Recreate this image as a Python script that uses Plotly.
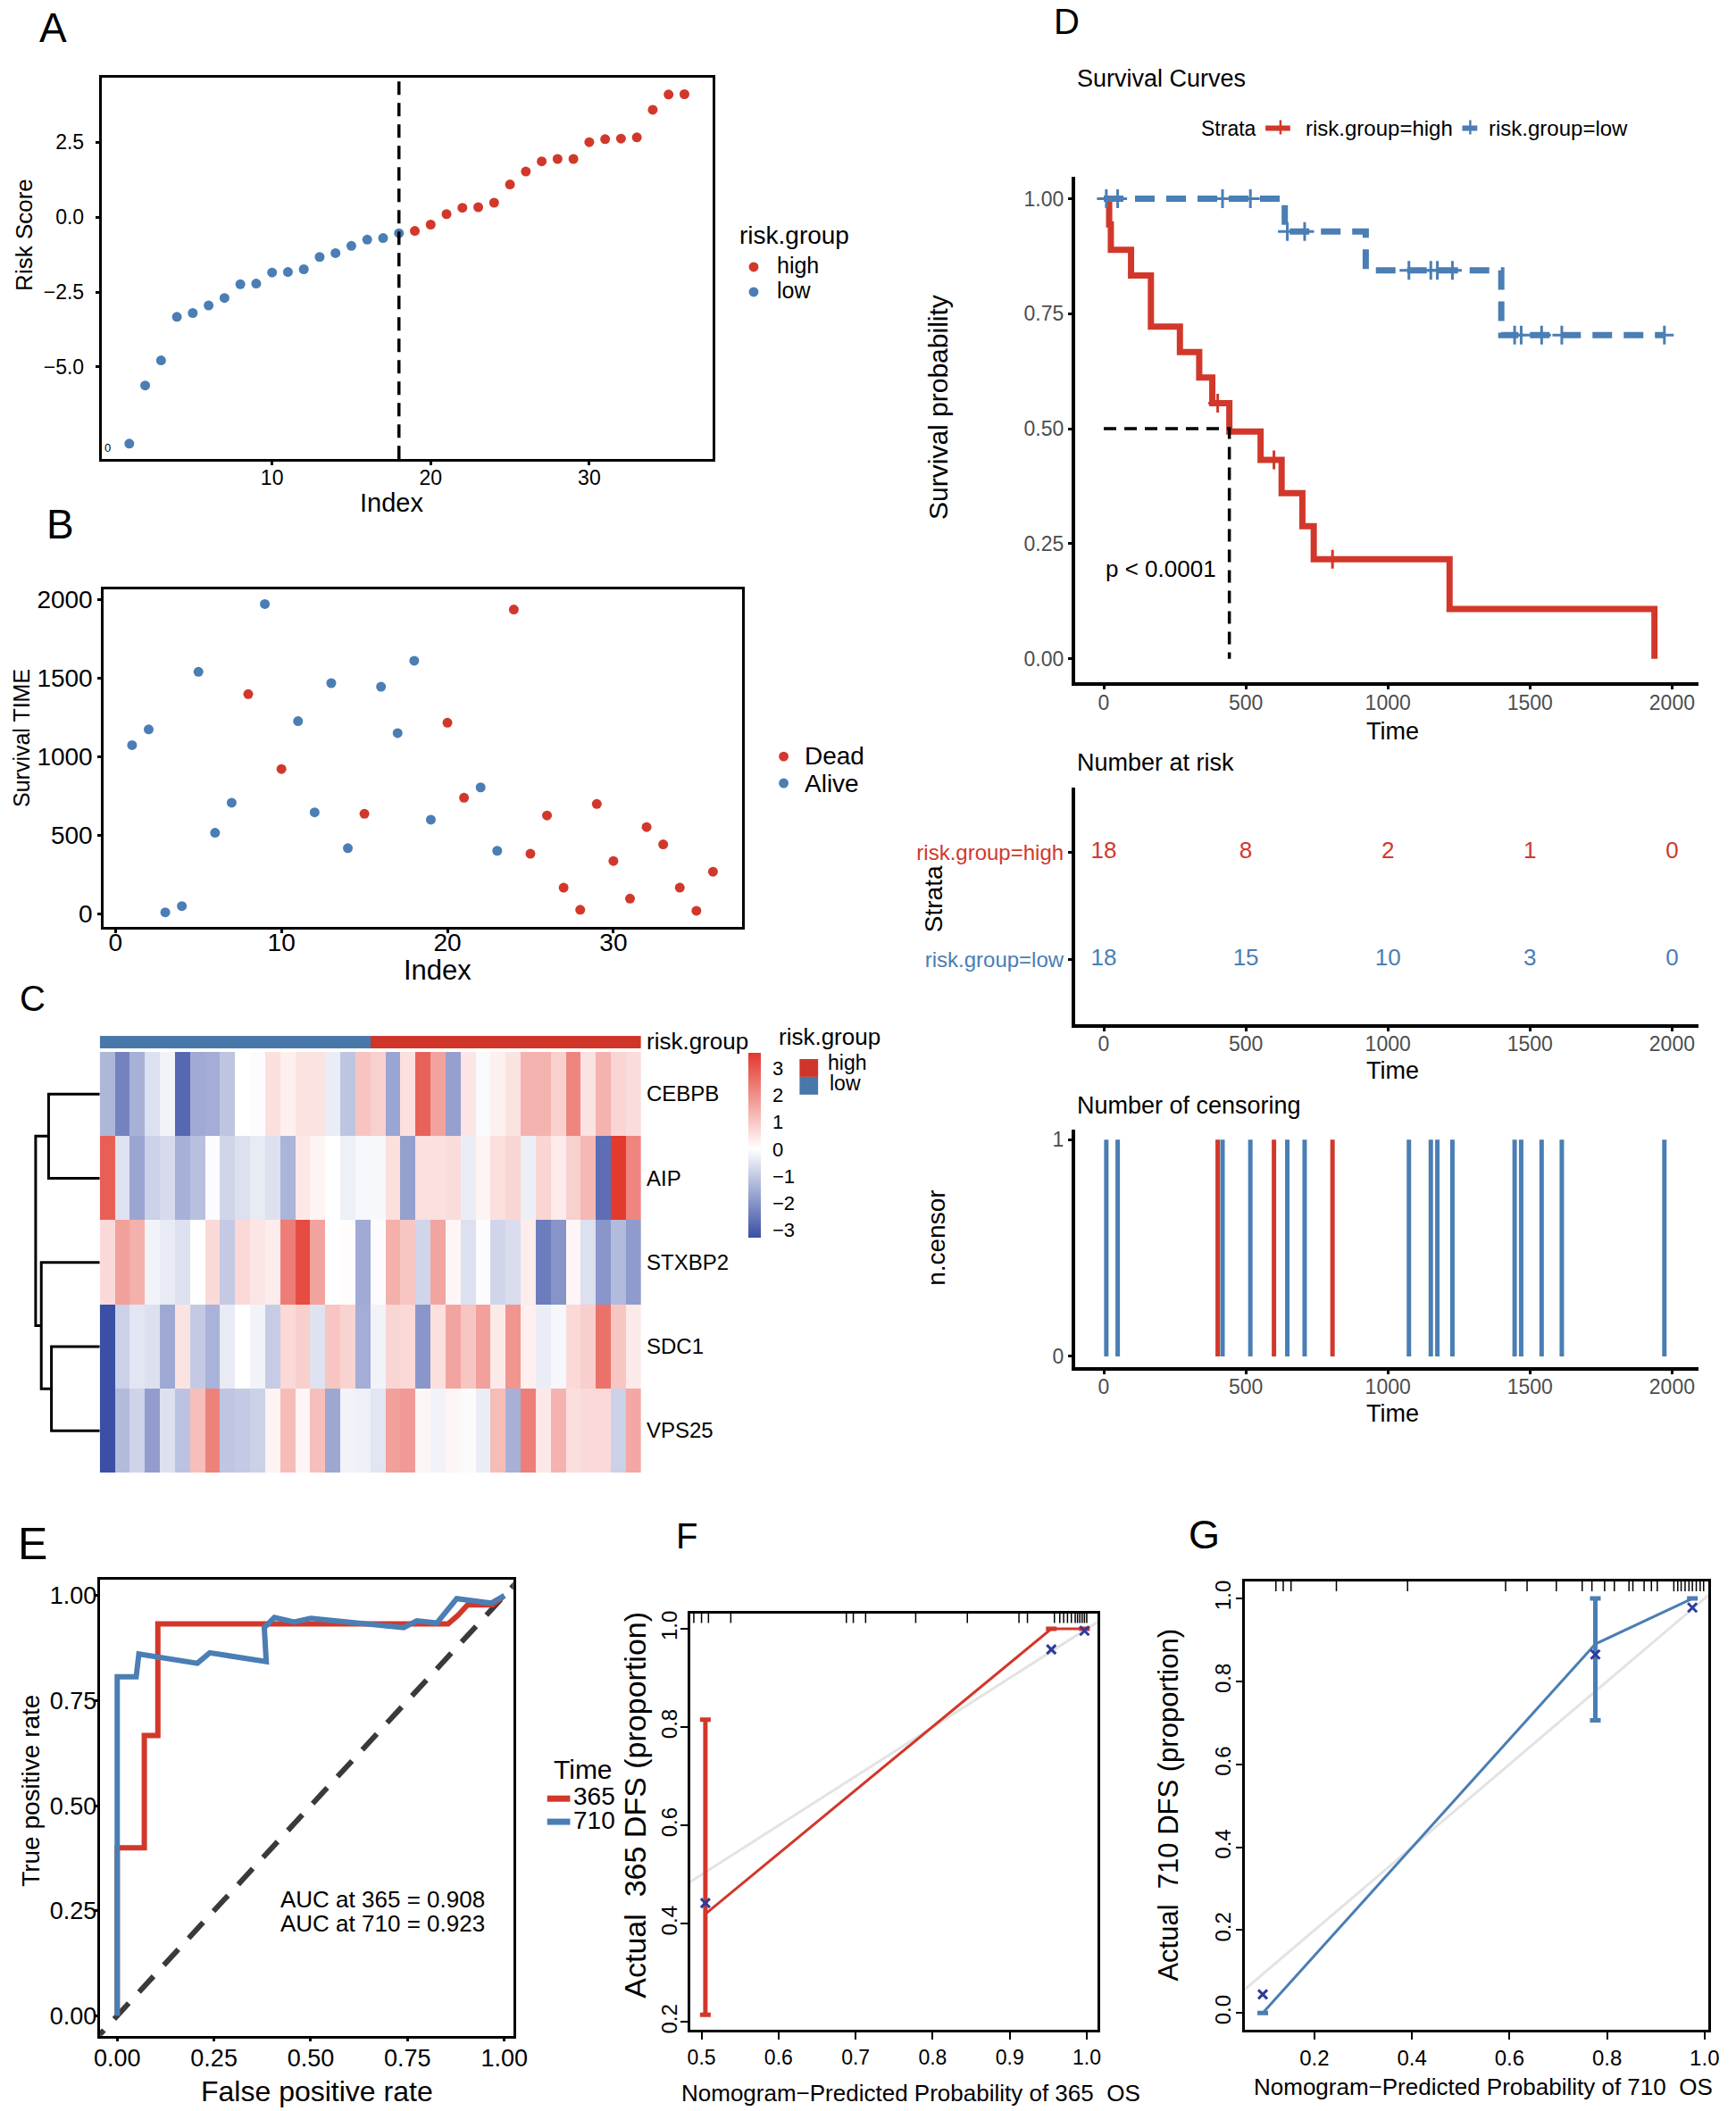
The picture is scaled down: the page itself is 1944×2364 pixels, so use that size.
import plotly.graph_objects as go

W, H = 1944, 2364
FONT = "Liberation Sans, Arial, Helvetica, sans-serif"
RED = "#D1382B"
BLUE = "#4A7EB4"
BAR_BLUE = "#4878A9"
BAR_RED = "#CF3528"
XMARK = "#2E3B9C"
GREY_TXT = "#4D4D4D"

# ---------------- Panel A / B data (patients ordered by risk score) ----------------
patient_index = [1, 2, 3, 4, 5, 6, 7, 8, 9, 10, 11, 12, 13, 14, 15, 16, 17, 18,
                 19, 20, 21, 22, 23, 24, 25, 26, 27, 28, 29, 30, 31, 32, 33, 34, 35, 36]
risk_score = [-7.56, -5.62, -4.78, -3.33, -3.20, -2.95, -2.70, -2.24, -2.22,
              -1.85, -1.83, -1.74, -1.33, -1.20, -0.96, -0.75, -0.70, -0.54,
              -0.46, -0.25, 0.10, 0.31, 0.33, 0.48, 1.09, 1.52, 1.86,
              1.94, 1.94, 2.50, 2.60, 2.62, 2.66, 3.58, 4.09, 4.10]
risk_group = ["low", "low", "low", "low", "low", "low", "low", "low", "low",
              "low", "low", "low", "low", "low", "low", "low", "low", "low",
              "high", "high", "high", "high", "high", "high", "high", "high", "high",
              "high", "high", "high", "high", "high", "high", "high", "high", "high"]
risk_cutoff = 18
survival_time = [1074, 1174, 9, 49, 1541, 516, 707, 1399, 1973, 922, 1227, 646,
                 1469, 418, 637, 1446, 1151, 1612, 599, 1217, 739, 805, 401, 1938,
                 382, 626, 166, 25, 699, 336, 96, 552, 442, 166, 19, 268]
vital_status = ["Alive", "Alive", "Alive", "Alive", "Alive", "Alive", "Alive", "Dead",
                "Alive", "Dead", "Alive", "Alive", "Alive", "Alive", "Dead", "Alive",
                "Alive", "Alive", "Alive", "Dead", "Dead", "Alive", "Alive", "Dead",
                "Dead", "Dead", "Dead", "Dead", "Dead", "Dead", "Dead", "Dead",
                "Dead", "Dead", "Dead", "Dead"]

# ---------------- Panel C data ----------------
heat_genes = ["CEBPB", "AIP", "STXBP2", "SDC1", "VPS25"]
expr_CEBPB = [-1.36, -2.33, -1.47, -0.59, -0.22, -2.83, -1.59, -1.54, -1.09, 0.0,
              -0.05, 0.56, 0.27, 0.5, 0.5, -0.34, -1.09, 1.06, 0.84, -1.69,
              0.56, 2.82, 1.65, -1.78, 0.45, -0.1, 0.27, 0.5, 1.36, 1.36,
              0.84, 2.19, 0.5, 1.36, 0.75, 0.63]
expr_AIP = [2.87, -0.54, -1.69, -0.87, -0.69, -1.47, -1.19, -0.05, -0.79, -0.59,
            -0.39, -0.57, -1.41, 0.41, 0.2, 0.0, -0.29, -0.13, -0.13, 0.56,
            -1.78, 0.56, 0.56, 0.63, -0.34, 0.2, 0.56, 0.75, -0.3, 0.75,
            0.36, 0.84, 1.27, -2.71, 3.53, 2.19]
expr_STXBP2 = [0.66, 1.7, 1.42, -0.22, -0.39, -0.59, 0.0, 0.66, -0.99, 0.68,
               0.45, 0.34, 2.33, 3.21, 1.65, 0.0, 0.05, -1.59, -0.05, 1.42,
               1.02, -0.79, 1.61, 0.16, -0.59, -0.05, -0.79, -0.64, 0.34, -2.45,
               -2.01, 0.16, -0.59, -1.96, -1.27, -1.88]
expr_SDC1 = [-3.3, -0.87, -0.49, -0.59, -1.62, 0.5, -0.99, -1.44, -0.39, 0.0,
             -0.22, -0.95, 0.68, 0.86, -0.54, 1.02, 0.79, -1.54, -0.22, 0.75,
             0.68, -1.96, 0.56, 1.61, 1.02, 1.7, 0.38, 1.9, 0.27, -0.34,
             -0.15, 0.68, 0.86, 2.53, 1.02, 0.38]
expr_VPS25 = [-3.3, -1.27, -0.8, -1.83, -0.57, -1.12, 1.15, 2.24, -1.06, -1.0,
              -0.87, 0.21, 1.2, 0.16, 1.15, -1.64, -0.22, -0.29, -0.49, 1.7,
              1.81, 0.16, -0.22, 0.16, -0.07, -0.34, 1.2, -1.47, 2.3, 0.41,
              1.36, 0.57, 0.66, 0.66, -0.87, 1.56]
# hierarchical clustering of rows: [left node, right node, height]; leaves 0..4
dendro_linkage = [[0, 1, 5.80], [3, 4, 5.48], [2, 6, 6.63], [5, 7, 7.27]]
colorbar_ticks = [-3, -2, -1, 0, 1, 2, 3]

# ---------------- Panel D ----------------
time_ticks = [0, 500, 1000, 1500, 2000]
p_value_text = "p < 0.0001"

# ---------------- Panel E (time-dependent ROC) ----------------
roc365_fpr = [0, 0, 0.005, 0.07, 0.07, 0.105, 0.105, 0.855, 0.88, 0.905, 0.97, 1.0]
roc365_tpr = [0, 0.40, 0.40, 0.40, 0.667, 0.667, 0.933, 0.933, 0.953, 0.978, 0.978, 1.0]
roc710_fpr = [0, 0, 0.049, 0.056, 0.207, 0.239, 0.385, 0.38, 0.406, 0.457, 0.5,
              0.606, 0.74, 0.774, 0.826, 0.877, 0.966, 1.0]
roc710_tpr = [0, 0.807, 0.807, 0.861, 0.839, 0.864, 0.843, 0.924, 0.948, 0.937, 0.946,
              0.937, 0.924, 0.94, 0.935, 0.993, 0.982, 1.0]
auc_365 = 0.908
auc_710 = 0.923

# ---------------- Panel F / G (calibration) ----------------
cal365_pred = [0.505, 0.954, 0.997]
cal365_obs = [0.42, 1.0, 1.0]
cal365_lo = [0.215, 1.0, 1.0]
cal365_hi = [0.815, 1.0, 1.0]
cal365_corr = [0.442, 0.958, 0.996]
cal365_rug = [0.490, 0.500, 0.509, 0.538, 0.688, 0.697, 0.713, 0.778, 0.845, 0.912,
              0.923, 0.958, 0.965, 0.970, 0.975, 0.980, 0.985, 0.988, 0.991, 0.994, 0.997, 1.0]
cal710_pred = [0.094, 0.776, 0.975]
cal710_obs = [0.0, 0.89, 1.0]
cal710_lo = [0.0, 0.706, 1.0]
cal710_hi = [0.0, 1.0, 1.0]
cal710_corr = [0.045, 0.865, 0.978]
cal710_rug = [0.121, 0.136, 0.152, 0.245, 0.391, 0.592, 0.636, 0.696, 0.749, 0.769,
              0.795, 0.815, 0.845, 0.853, 0.876, 0.891, 0.903, 0.937, 0.945, 0.952,
              0.960, 0.968, 0.975, 0.983, 0.991, 0.998]


# ---------------- helpers (pixel positions in the 1944x2364 page) ----------------
def px(x):
    return x / W


def py(y):
    return 1 - y / H


def xd(l, r):
    return [px(l), px(r)]


def yd(t, b):
    return [py(b), py(t)]


annotations = []
shapes = []


def ann(text, x, y, size, xanchor="center", yanchor="middle", angle=0, color="black"):
    annotations.append(dict(text=text, x=px(x), y=py(y), xref="paper", yref="paper",
                            showarrow=False, xanchor=xanchor, yanchor=yanchor,
                            textangle=angle, font=dict(size=size, color=color, family=FONT)))


def hline(x0, x1, y, color, width, dash=None):
    ln = dict(color=color, width=width)
    if dash:
        ln["dash"] = dash
    shapes.append(dict(type="line", xref="paper", yref="paper", x0=px(x0), x1=px(x1),
                       y0=py(y), y1=py(y), line=ln))


def vline(x, y0, y1, color, width):
    shapes.append(dict(type="line", xref="paper", yref="paper", x0=px(x), x1=px(x),
                       y0=py(y0), y1=py(y1), line=dict(color=color, width=width)))


def dot(x, y, r, color):
    shapes.append(dict(type="circle", xref="paper", yref="paper", x0=px(x - r), x1=px(x + r),
                       y0=py(y + r), y1=py(y - r), fillcolor=color, line=dict(width=0)))


def rect(x0, y0, x1, y1, color):
    shapes.append(dict(type="rect", xref="paper", yref="paper", x0=px(x0), x1=px(x1),
                       y0=py(y1), y1=py(y0), fillcolor=color, line=dict(width=0)))


def axis(domain, rng, anchor, size=23, color="black", **kw):
    a = dict(domain=domain, range=rng, anchor=anchor, showgrid=False, zeroline=False,
             showline=True, linecolor="black", linewidth=3, ticks="outside",
             tickcolor="black", ticklen=4, tickwidth=3,
             tickfont=dict(size=size, color=color, family=FONT))
    a.update(kw)
    return a


def km_curve(times, events):
    xs, ys, cx, cy = [0], [1.0], [], []
    s = 1.0
    for t in sorted(set(times)):
        n_risk = sum(1 for u in times if u >= t)
        d = sum(1 for u, e in zip(times, events) if u == t and e == 1)
        c = sum(1 for u, e in zip(times, events) if u == t and e == 0)
        if d:
            s *= 1 - d / n_risk
            xs.append(t)
            ys.append(s)
        if c:
            cx.append(t)
            cy.append(s)
    if xs[-1] != max(times):
        xs.append(max(times))
        ys.append(s)
    return xs, ys, cx, cy


fig = go.Figure()

# ================= Panel A =================
A_xr, A_yr = [-0.75, 37.75], [-8.08, 4.66]
fig.add_trace(go.Scatter(x=patient_index, y=risk_score, mode="markers",
                         marker=dict(color=[RED if g == "high" else BLUE for g in risk_group], size=11),
                         xaxis="x", yaxis="y"))
shapes.append(dict(type="line", xref="x", yref="y domain", x0=risk_cutoff, x1=risk_cutoff,
                   y0=0, y1=1, line=dict(color="black", width=3.5, dash="15px,9px")))

# ================= Panel B =================
B_xr, B_yr = [-0.70, 37.76], [-85, 2066]
fig.add_trace(go.Scatter(x=patient_index, y=survival_time, mode="markers",
                         marker=dict(color=[RED if s == "Dead" else BLUE for s in vital_status], size=11),
                         xaxis="x2", yaxis="y2"))

# ================= Panel C =================
fig.add_trace(go.Heatmap(z=[[0 if g == "low" else 1 for g in risk_group]], x=patient_index, y=[0],
                         colorscale=[[0, BAR_BLUE], [0.5, BAR_BLUE], [0.5, BAR_RED], [1, BAR_RED]],
                         zmin=0, zmax=1, showscale=False, xaxis="x3", yaxis="y3"))
heat_z = [expr_CEBPB, expr_AIP, expr_STXBP2, expr_SDC1, expr_VPS25]
hz_min, hz_max = -3.3, 3.57
mid = -hz_min / (hz_max - hz_min)
fig.add_trace(go.Heatmap(z=heat_z, x=patient_index, y=list(range(len(heat_genes))),
                         zmin=hz_min, zmax=hz_max,
                         colorscale=[[0, "#3A4FA5"], [mid, "#FFFFFF"], [1, "#E3382D"]],
                         colorbar=dict(x=px(841), xanchor="left", y=py(1179.3), yanchor="top",
                                       len=207, lenmode="pixels", thickness=14, thicknessmode="pixels",
                                       xpad=0, ypad=0, outlinewidth=0, tickvals=colorbar_ticks,
                                       ticks="outside", ticklen=9, tickcolor="rgba(0,0,0,0)",
                                       tickfont=dict(size=22, family=FONT, color="black")),
                         xaxis="x4", yaxis="y4"))
# dendrogram
pos = {i: (float(i), 0.0) for i in range(len(heat_genes))}
dx, dy = [], []
for k, (a, b, h) in enumerate(dendro_linkage):
    ya, ha = pos[a]
    yb, hb = pos[b]
    dx += [ha, h, h, hb, None]
    dy += [ya, ya, yb, yb, None]
    pos[len(heat_genes) + k] = ((ya + yb) / 2, h)
fig.add_trace(go.Scatter(x=dx, y=dy, mode="lines", line=dict(color="black", width=3),
                         xaxis="x5", yaxis="y5"))

# ================= Panel D : Kaplan-Meier =================
D_xr = [-101.6, 2094]
groups = [("high", RED, None), ("low", BLUE, "22px,13px")]
km = {}
for g, col, dash in groups:
    t = [u for u, gg in zip(survival_time, risk_group) if gg == g]
    e = [1 if s == "Dead" else 0 for s, gg in zip(vital_status, risk_group) if gg == g]
    km[g] = (t, e) + km_curve(t, e)
for g, col, dash in groups:
    t, e, xs, ys, cx, cy = km[g]
    ln = dict(color=col, width=7, shape="hv")
    if dash:
        ln["dash"] = dash
    fig.add_trace(go.Scatter(x=xs, y=ys, mode="lines", line=ln, xaxis="x6", yaxis="y6"))
    fig.add_trace(go.Scatter(x=cx, y=cy, mode="markers",
                             marker=dict(symbol="cross-thin", size=15, line=dict(color=col, width=3)),
                             xaxis="x6", yaxis="y6"))
# median survival (high group)
_, _, hx, hy, _, _ = km["high"]
med = next(x for x, y in zip(hx, hy) if y <= 0.5)
fig.add_trace(go.Scatter(x=[0, med, med], y=[0.5, 0.5, 0], mode="lines",
                         line=dict(color="black", width=3.5, dash="14px,9px"),
                         xaxis="x6", yaxis="y6"))

# number at risk table
for g, col, dash in groups:
    t = km[g][0]
    n_at_risk = [sum(1 for u in t if u >= tt) for tt in time_ticks]
    fig.add_trace(go.Scatter(x=time_ticks, y=[2 if g == "high" else 1] * len(time_ticks),
                             mode="text", text=[str(n) for n in n_at_risk],
                             textfont=dict(size=26, color=col, family=FONT),
                             xaxis="x7", yaxis="y7"))

# number of censoring
for g, col, dash in [("low", BLUE, None), ("high", RED, None)]:
    t, e = km[g][0], km[g][1]
    cens_times = sorted(set(u for u, ev in zip(t, e) if ev == 0))
    sx, sy = [], []
    for ct in cens_times:
        n_c = sum(1 for u, ev in zip(t, e) if u == ct and ev == 0)
        sx += [ct, ct, None]
        sy += [0, n_c, None]
    fig.add_trace(go.Scatter(x=sx, y=sy, mode="lines", line=dict(color=col, width=5),
                             xaxis="x8", yaxis="y8"))

# ================= Panel E : ROC =================
E_xr, E_yr = [-0.045, 1.023], [-0.048, 1.038]
fig.add_trace(go.Scatter(x=[-0.2, 1.2], y=[-0.2, 1.2], mode="lines",
                         line=dict(color="#3A3A3A", width=6, dash="24px,17px"),
                         xaxis="x9", yaxis="y9"))
fig.add_trace(go.Scatter(x=roc365_fpr, y=roc365_tpr, mode="lines", line=dict(color=RED, width=6),
                         xaxis="x9", yaxis="y9"))
fig.add_trace(go.Scatter(x=roc710_fpr, y=roc710_tpr, mode="lines", line=dict(color=BLUE, width=6),
                         xaxis="x9", yaxis="y9"))


# ================= Panel F / G : calibration =================
def calib(pred, obs, lo, hi, corr, rug, col, xa, ya, xr, yr, ytop_px, ybot_px):
    fig.add_trace(go.Scatter(x=[-1, 2], y=[-1, 2], mode="lines", line=dict(color="#E3E3E3", width=3),
                             xaxis=xa, yaxis=ya))
    fig.add_trace(go.Scatter(x=pred, y=obs, mode="lines", line=dict(color=col, width=3),
                             xaxis=xa, yaxis=ya))
    fig.add_trace(go.Scatter(x=pred, y=obs, mode="markers",
                             marker=dict(size=1, color=col, opacity=0),
                             error_y=dict(type="data", symmetric=False,
                                          array=[h - o for h, o in zip(hi, obs)],
                                          arrayminus=[o - l for o, l in zip(obs, lo)],
                                          thickness=5, width=6, color=col),
                             xaxis=xa, yaxis=ya))
    fig.add_trace(go.Scatter(x=pred, y=corr, mode="markers",
                             marker=dict(symbol="x-thin", size=10, line=dict(color=XMARK, width=3)),
                             xaxis=xa, yaxis=ya))
    rug_len = 11 * (yr[1] - yr[0]) / (ybot_px - ytop_px)
    rx, ry = [], []
    for r in rug:
        rx += [r, r, None]
        ry += [yr[1], yr[1] - rug_len, None]
    fig.add_trace(go.Scatter(x=rx, y=ry, mode="lines", line=dict(color="black", width=1.5),
                             xaxis=xa, yaxis=ya))


F_xr, F_yr = [0.485, 1.0139], [0.184, 1.0317]
G_xr, G_yr = [0.058, 1.008], [-0.041, 1.041]
calib(cal365_pred, cal365_obs, cal365_lo, cal365_hi, cal365_corr, cal365_rug, RED,
      "x10", "y10", F_xr, F_yr, 1808.7, 2276.9)
calib(cal710_pred, cal710_obs, cal710_lo, cal710_hi, cal710_corr, cal710_rug, BLUE,
      "x11", "y11", G_xr, G_yr, 1773, 2277)

# ================= layout / axes =================
hidden = dict(visible=False, showgrid=False, zeroline=False)
lay = dict(width=W, height=H, margin=dict(l=0, r=0, t=0, b=0), paper_bgcolor="white",
           plot_bgcolor="white", font=dict(family=FONT, color="black"), showlegend=False)

lay["xaxis"] = axis(xd(108, 800), A_xr, "y", size=23, tickvals=[10, 20, 30], mirror=True,
                    ticklabelstandoff=-6)
lay["yaxis"] = axis(yd(83, 512), A_yr, "x", size=23, tickvals=[-5, -2.5, 0, 2.5], tickformat=".1f",
                    mirror=True, ticklabelstandoff=8)
lay["xaxis2"] = axis(xd(110.6, 834), B_xr, "y2", size=28, tickvals=[0, 10, 20, 30], mirror=True,
                     ticklabelstandoff=-14)
lay["yaxis2"] = axis(yd(658.3, 1037.7), B_yr, "x2", size=28, tickvals=[0, 500, 1000, 1500, 2000],
                     mirror=True)

lay["xaxis3"] = dict(hidden, domain=xd(106, 719.4), range=[0.5, 36.5], anchor="y3")
lay["yaxis3"] = dict(hidden, domain=yd(1160, 1174), range=[-0.5, 0.5], anchor="x3")
lay["xaxis4"] = dict(hidden, domain=xd(106, 719.4), range=[0.5, 36.5], anchor="y4")
lay["yaxis4"] = dict(hidden, domain=yd(1178, 1651), range=[4.5, -0.5], anchor="x4")
lay["xaxis5"] = dict(hidden, domain=xd(28, 106), range=[7.8, 0], anchor="y5")
lay["yaxis5"] = dict(hidden, domain=yd(1178, 1651), range=[4.5, -0.5], anchor="x5")

lay["xaxis6"] = axis(xd(1211, 1918), D_xr, "y6", size=23, color=GREY_TXT, tickvals=time_ticks,
                     linewidth=3.5, ticklabelstandoff=-5)
lay["yaxis6"] = axis(yd(195, 763), [-0.052, 1.047], "x6", size=23, color=GREY_TXT,
                     tickvals=[0, 0.25, 0.5, 0.75, 1.0], tickformat=".2f", linewidth=3.5)
lay["xaxis7"] = axis(xd(1211, 1918), D_xr, "y7", size=23, color=GREY_TXT, tickvals=time_ticks,
                     linewidth=3.5, ticklabelstandoff=-5)
lay["yaxis7"] = axis(yd(881, 1147), [0.4, 2.6], "x7", size=24, tickvals=[1, 2], linewidth=3.5,
                     ticktext=[f"<span style='color:{BLUE}'>risk.group=low</span>",
                               f"<span style='color:{RED}'>risk.group=high</span>"])
lay["xaxis8"] = axis(xd(1211, 1918), D_xr, "y8", size=23, color=GREY_TXT, tickvals=time_ticks,
                     linewidth=3.5, ticklabelstandoff=-5)
lay["yaxis8"] = axis(yd(1265, 1532), [-0.049, 1.048], "x8", size=23, color=GREY_TXT, tickvals=[0, 1],
                     linewidth=3.5)

lay["xaxis9"] = axis(xd(106, 574.5), E_xr, "y9", size=27, tickvals=[0, 0.25, 0.5, 0.75, 1.0],
                     tickformat=".2f", mirror=True, ticklen=3, ticklabelstandoff=-4)
lay["yaxis9"] = axis(yd(1771, 2283.6), E_yr, "x9", size=27, tickvals=[0, 0.25, 0.5, 0.75, 1.0],
                     tickformat=".2f", mirror=True, ticklen=3, ticklabelstandoff=-8)
lay["xaxis10"] = axis(xd(774.8, 1236.6), F_xr, "y10", size=23, tickvals=[0.5, 0.6, 0.7, 0.8, 0.9, 1.0],
                      tickformat=".1f", mirror=True, linewidth=2.5, ticklen=8, tickwidth=2)
lay["yaxis10"] = axis(yd(1808.7, 2276.9), F_yr, "x10", size=24, tickvals=[0.2, 0.4, 0.6, 0.8, 1.0],
                      tickformat=".1f", mirror=True, linewidth=2.5, ticklen=8, tickwidth=2, tickangle=-90,
                      ticklabelstandoff=-6)
lay["xaxis11"] = axis(xd(1404, 1929), G_xr, "y11", size=24, tickvals=[0.2, 0.4, 0.6, 0.8, 1.0],
                      tickformat=".1f", mirror=True, linewidth=2.5, ticklen=8, tickwidth=2)
lay["yaxis11"] = axis(yd(1773, 2277), G_yr, "x11", size=24, tickvals=[0, 0.2, 0.4, 0.6, 0.8, 1.0],
                      tickformat=".1f", mirror=True, linewidth=2.5, ticklen=8, tickwidth=2, tickangle=-90,
                      ticklabelstandoff=-4)

# ---------------- text ----------------
# panel letters
ann("A", 53, 27, 46)
ann("B", 61, 585, 46)
ann("C", 30, 1118, 40)
ann("D", 1202, 20, 40)
ann("E", 30, 1731, 50)
ann("F", 771, 1722, 40)
ann("G", 1358, 1720, 45)

# A
ann("Risk Score", 20, 260, 26, angle=-90)
ann("Index", 437, 561, 29)
ann("0", 115, 499, 13)
ann("risk.group", 829, 260, 28, xanchor="left")
dot(847, 296, 5.5, RED)
dot(847, 324, 5.5, BLUE)
ann("high", 871, 294, 25, xanchor="left")
ann("low", 871, 322, 25, xanchor="left")

# B
ann("Survival TIME", 17, 825, 25, angle=-90)
ann("Index", 489, 1086, 31)
dot(881, 846, 5.5, RED)
dot(881, 876, 5.5, BLUE)
ann("Dead", 903, 845, 28, xanchor="left")
ann("Alive", 903, 876, 28, xanchor="left")

# C
ann("risk.group", 724, 1166, 26, xanchor="left")
for i, gname in enumerate(heat_genes):
    ann(gname, 724, 1225 + i * 94.6, 24, xanchor="left")
ann("risk.group", 873, 1161, 26, xanchor="left")
rect(899, 1186, 920, 1206, BAR_RED)
rect(899, 1206, 920, 1226, BAR_BLUE)
ann("high", 929, 1190, 23, xanchor="left")
ann("low", 931, 1213, 23, xanchor="left")

# D
ann("Survival Curves", 1211, 84, 27, xanchor="left")
ann("Strata", 1352, 140, 23, xanchor="left")
hline(1427, 1455, 140, RED, 6)
vline(1444, 131, 147, RED, 2.5)
ann("risk.group=high", 1470, 140, 24, xanchor="left")
hline(1650, 1667, 140, BLUE, 6)
vline(1659, 131, 147, BLUE, 2.5)
ann("risk.group=low", 1678, 140, 24, xanchor="left")
ann("Survival probability", 1056, 454, 30, angle=-90)
ann("Time", 1571, 818, 27)
ann(p_value_text, 1244, 635, 26, xanchor="left")

ann("Number at risk", 1211, 853, 27, xanchor="left")
ann("Strata", 1051, 1006, 28, angle=-90)
ann("Time", 1571, 1199, 27)

ann("Number of censoring", 1211, 1238, 27, xanchor="left")
ann("n.censor", 1054, 1387, 28, angle=-90)
ann("Time", 1571, 1584, 27)

# E
ann("True positive rate", 28, 2008, 28, angle=-90)
ann("False positive rate", 352, 2346, 32)
ann(f"AUC at 365 = {auc_365:.3f}", 309, 2130, 26, xanchor="left")
ann(f"AUC at 710 = {auc_710:.3f}", 309, 2157, 26, xanchor="left")
ann("Time", 618, 1984, 30, xanchor="left")
hline(613, 639, 2017, RED, 7)
hline(613, 639, 2043, BLUE, 7)
ann("365", 641, 2014, 28, xanchor="left")
ann("710", 641, 2041, 28, xanchor="left")

# F / G
ann("Actual\u00a0 365 DFS (proportion)", 713, 2024, 34, angle=-90)
ann("Nomogram\u2212Predicted Probability of 365\u00a0 OS", 1025, 2348, 26)
ann("Actual\u00a0 710 DFS (proportion)", 1317, 2024, 31, angle=-90)
ann("Nomogram\u2212Predicted Probability of 710\u00a0 OS", 1674, 2341, 26)

lay["annotations"] = annotations
lay["shapes"] = shapes
fig.update_layout(**lay)
fig.write_html("out.html", config={"displayModeBar": False},
               post_script="document.body.style.margin='0px';"
                           "document.body.style.overflow='hidden';"
                           "document.documentElement.style.overflow='hidden';")
